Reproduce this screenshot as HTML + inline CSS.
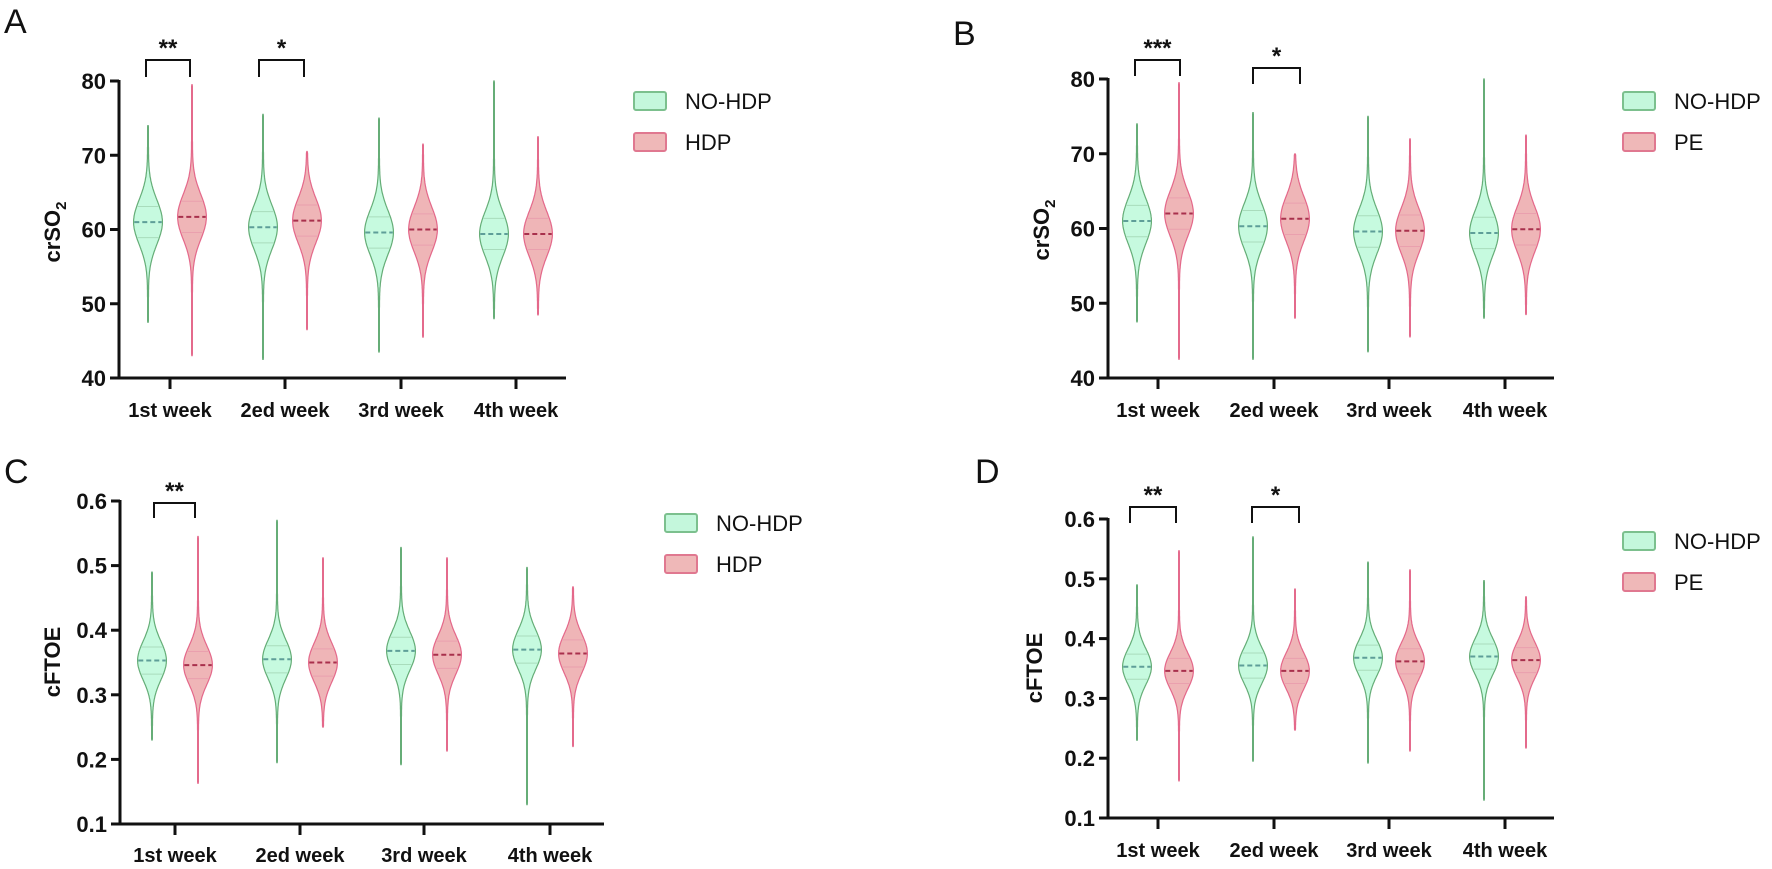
<!DOCTYPE html>
<html><head><meta charset="utf-8"><style>
html,body{margin:0;padding:0;background:#fff}
svg{display:block}
text{font-family:"Liberation Sans",Arial,sans-serif}
</style></head><body>
<svg id="s" width="1772" height="869" xmlns="http://www.w3.org/2000/svg"></svg>
<script>
const S=document.getElementById('s');let h='';
function panel(p){
 const {ax,x1,yTop,yBot,vmin,vmax,ticks,fmt,xt,off,lab,labx,laby,ylab,ylx,yly,sub,data,sig,s,W,leg,lx,ly,tickY}=p;
 const Y=v=>yBot-(v-vmin)/(vmax-vmin)*(yBot-yTop);
 h+=`<text x="${labx}" y="${laby}" font-size="34" fill="#111">${lab}</text>`;
 data.forEach((d,i)=>{
  const g=i%2==0, cx=xt[Math.floor(i/2)]+(g?-off:off);
  const [m,mn,mx]=d;const n=160;let L=[],R=[];
  for(let k=0;k<=n;k++){const v=mn+(mx-mn)*k/n;const dd=Math.abs(v-m)/s;let w=W*Math.exp(-0.5*dd*dd)+0.4;
   if(k==0||k==n)w=0.2;L.push([cx-w,Y(v)]);R.push([cx+w,Y(v)]);}
  const pts=L.concat(R.reverse()).map(q=>q[0].toFixed(1)+','+q[1].toFixed(1)).join(' ');
  h+=`<polygon points="${pts}" fill="${g?'#c6fadf':'#efb5b7'}" stroke="${g?'#4f9f62':'#e0557c'}" stroke-width="1.2" stroke-opacity="0.85"/>`;
  const wm=W*0.98;
  h+=`<line x1="${cx-wm}" x2="${cx+wm}" y1="${Y(m)}" y2="${Y(m)}" stroke="${g?'#5e9e98':'#a8304c'}" stroke-width="2" stroke-dasharray="5,3"/>`;
  [-1,1].forEach(q=>{const v=m+q*s*0.7;const w=W*Math.exp(-0.5*0.49);
   h+=`<line x1="${cx-w}" x2="${cx+w}" y1="${Y(v)}" y2="${Y(v)}" stroke="${g?'#a9dcbc':'#eaa0ae'}" stroke-width="1"/>`;});
 });
 h+=`<line x1="${ax}" x2="${ax}" y1="${yTop-1}" y2="${yBot+1.5}" stroke="#111" stroke-width="3"/>`;
 h+=`<line x1="${ax-1.5}" x2="${x1}" y1="${yBot}" y2="${yBot}" stroke="#111" stroke-width="3"/>`;
 ticks.forEach(t=>{h+=`<line x1="${ax-9}" x2="${ax}" y1="${Y(t)}" y2="${Y(t)}" stroke="#111" stroke-width="3"/>`;
  h+=`<text x="${ax-13}" y="${Y(t)+8}" font-size="22" font-weight="bold" text-anchor="end" fill="#111">${fmt(t)}</text>`;});
 const names=['1st week','2ed week','3rd week','4th week'];
 xt.forEach((x,i)=>{h+=`<line x1="${x}" x2="${x}" y1="${yBot}" y2="${yBot+11}" stroke="#111" stroke-width="3"/>`;
  h+=`<text x="${x}" y="${tickY}" font-size="20" font-weight="bold" text-anchor="middle" fill="#111">${names[i]}</text>`;});
 h+=`<text transform="translate(${ylx},${yly}) rotate(-90)" font-size="22" font-weight="bold" text-anchor="middle" fill="#111">${ylab}${sub?'<tspan font-size="15" dy="6">2</tspan>':''}</text>`;
 sig.forEach(q=>{const [a,b,yt,yb,st]=q;
  h+=`<polyline points="${a},${yb} ${a},${yt} ${b},${yt} ${b},${yb}" fill="none" stroke="#111" stroke-width="2"/>`;
  h+=`<text x="${(a+b)/2}" y="${yt-4}" font-size="24" font-weight="bold" text-anchor="middle" fill="#111">${st}</text>`;});
 const items=[['NO-HDP','#c4f7dc','#7cc08e'],[leg,'#efb8b8','#e07890']];
 items.forEach((it,i)=>{const y=ly+i*41;
  h+=`<rect x="${lx}" y="${y}" width="32" height="18" fill="${it[1]}" stroke="${it[2]}" stroke-width="2" rx="2"/>`;
  h+=`<text x="${lx+51}" y="${y+17}" font-size="22" fill="#111">${it[0]}</text>`;});
}
const dA=[[61,47.5,74],[61.7,43,79.5],[60.3,42.5,75.5],[61.2,46.5,70.5],[59.6,43.5,75],[60,45.5,71.5],[59.4,48,80],[59.4,48.5,72.5]];
const dB=[[61,47.5,74],[62,42.5,79.5],[60.3,42.5,75.5],[61.3,48,70],[59.6,43.5,75],[59.7,45.5,72],[59.4,48,80],[59.9,48.5,72.5]];
const dC=[[.353,.23,.49],[.346,.163,.545],[.355,.195,.57],[.35,.25,.512],[.368,.192,.528],[.362,.213,.512],[.37,.13,.497],[.364,.22,.467]];
const dD=[[.353,.23,.49],[.346,.162,.547],[.355,.195,.57],[.346,.247,.483],[.368,.192,.528],[.362,.212,.515],[.37,.13,.497],[.364,.217,.47]];
const f0=t=>t, f1=t=>t.toFixed(1);
panel({ax:119,x1:566,yTop:81,yBot:378,vmin:40,vmax:80,ticks:[40,50,60,70,80],fmt:f0,xt:[170,285,401,516],off:22,lab:'A',labx:4,laby:33,ylab:'crSO',sub:1,ylx:60,yly:232,data:dA,s:3,W:14,leg:'HDP',lx:634,ly:92,tickY:417,
 sig:[[146,190,60,77,'**'],[259,304,60,77,'*']]});
panel({ax:1108,x1:1554,yTop:79,yBot:378,vmin:40,vmax:80,ticks:[40,50,60,70,80],fmt:f0,xt:[1158,1274,1389,1505],off:21,lab:'B',labx:953,laby:45,ylab:'crSO',sub:1,ylx:1049,yly:230,data:dB,s:3,W:14,leg:'PE',lx:1623,ly:92,tickY:417,
 sig:[[1135,1180,60,76,'***'],[1253,1300,68,84,'*']]});
panel({ax:120,x1:604,yTop:501,yBot:824,vmin:.1,vmax:.6,ticks:[.1,.2,.3,.4,.5,.6],fmt:f1,xt:[175,300,424,550],off:23,lab:'C',labx:4,laby:483,ylab:'cFTOE',sub:0,ylx:60,yly:662,data:dC,s:.03,W:14,leg:'HDP',lx:665,ly:514,tickY:862,
 sig:[[154,195,503,518,'**']]});
panel({ax:1108,x1:1554,yTop:519,yBot:818,vmin:.1,vmax:.6,ticks:[.1,.2,.3,.4,.5,.6],fmt:f1,xt:[1158,1274,1389,1505],off:21,lab:'D',labx:975,laby:483,ylab:'cFTOE',sub:0,ylx:1042,yly:668,data:dD,s:.03,W:14,leg:'PE',lx:1623,ly:532,tickY:857,
 sig:[[1130,1176,507,523,'**'],[1252,1299,507,523,'*']]});
S.innerHTML=h;
</script>
</body></html>
